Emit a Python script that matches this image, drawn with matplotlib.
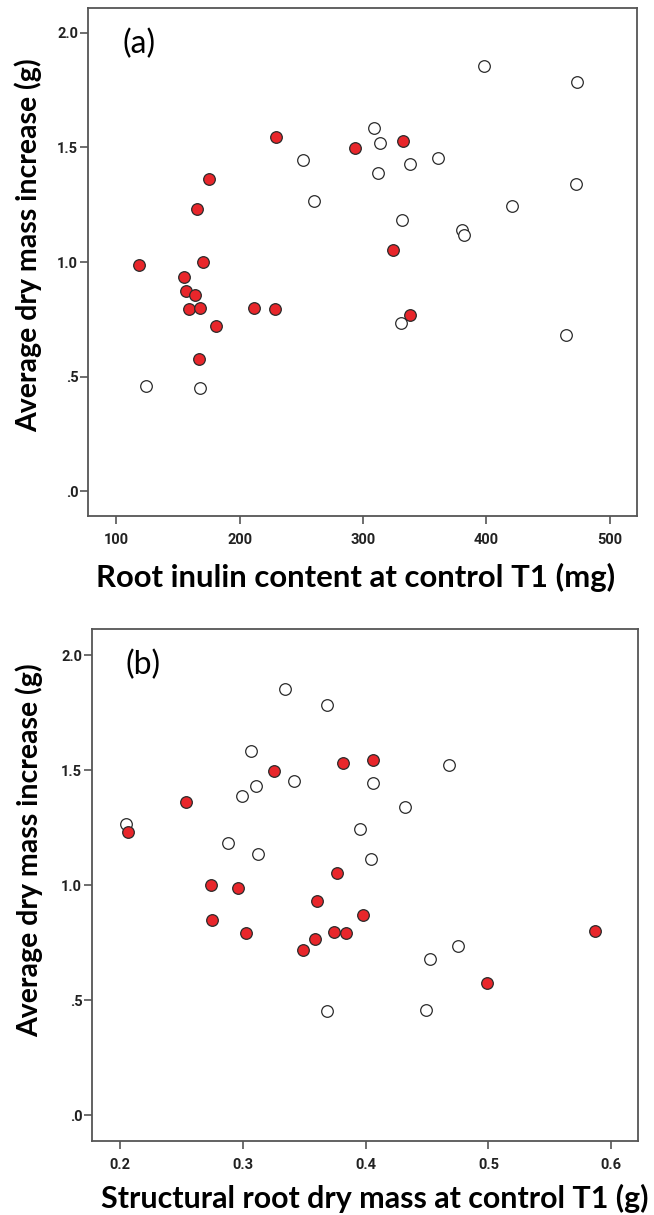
import matplotlib
matplotlib.use("Agg")
import matplotlib.pyplot as plt

# ---------------- data ----------------
# Panel (a): root inulin content (mg) vs average dry mass increase (g)
a_red_x = [118, 154.5, 156.2, 158.6, 164, 168, 165, 170, 167, 175, 181, 211.7, 228.3, 229.7, 293.4, 332.5, 324.3, 338]
a_red_y = [0.989, 0.934, 0.873, 0.795, 0.854, 0.800, 1.233, 1.000, 0.577, 1.363, 0.720, 0.801, 0.793, 1.545, 1.496, 1.529, 1.053, 0.767]
a_open_x = [123.8, 168, 251, 260.3, 308.7, 313.8, 312.1, 338, 331.5, 330.8, 360.4, 380.5, 381.9, 398.2, 420.7, 473.4, 473, 464.3]
a_open_y = [0.459, 0.452, 1.446, 1.268, 1.585, 1.521, 1.387, 1.429, 1.183, 0.734, 1.455, 1.139, 1.116, 1.854, 1.246, 1.784, 1.340, 0.681]

# Panel (b): structural root dry mass (g) vs average dry mass increase (g)
b_red_x = [0.2061, 0.254, 0.2741, 0.296, 0.2751, 0.3025, 0.3254, 0.3486, 0.3588, 0.3605, 0.3745, 0.3838, 0.3766, 0.3814, 0.4056, 0.3978, 0.4985, 0.5867]
b_red_y = [1.231, 1.361, 1.001, 0.987, 0.850, 0.793, 1.497, 0.719, 0.766, 0.934, 0.798, 0.793, 1.052, 1.530, 1.545, 0.872, 0.575, 0.802]
b_open_x = [0.2051, 0.2881, 0.2991, 0.3062, 0.3107, 0.3120, 0.3342, 0.3414, 0.3687, 0.3681, 0.3950, 0.4046, 0.4060, 0.4323, 0.4490, 0.4521, 0.4675, 0.4750]
b_open_y = [1.269, 1.183, 1.389, 1.585, 1.430, 1.138, 1.856, 1.456, 1.785, 0.4515, 1.246, 1.116, 1.447, 1.341, 0.458, 0.680, 1.523, 0.735]

y_ticks = [0.0, 0.5, 1.0, 1.5, 2.0]
y_tick_labels = [".0", ".5", "1.0", "1.5", "2.0"]
a_x_ticks = [100, 200, 300, 400, 500]
a_x_tick_labels = ["100", "200", "300", "400", "500"]
b_x_ticks = [0.2, 0.3, 0.4, 0.5, 0.6]
b_x_tick_labels = ["0.2", "0.3", "0.4", "0.5", "0.6"]

y_label = "Average dry mass increase (g)"
a_x_label = "Root inulin content at control T1 (mg)"
b_x_label = "Structural root dry mass at control T1 (g)"

# ---------------- figure ----------------
W, H = 654, 1215
DPI = 100
fig = plt.figure(figsize=(W / DPI, H / DPI), dpi=DPI)
fig.patch.set_facecolor("white")

RED = "#E8262B"
EDGE = "#2a2a2a"
SPINE = "#555555"
TICK_FONT = ["Roboto", "DejaVu Sans"]
LABEL_FONT = ["Lato", "DejaVu Sans"]


def px_axes(left, top, right, bottom):
    return fig.add_axes([left / W, 1 - bottom / H, (right - left) / W, (bottom - top) / H])


def style(ax, xlim, ylim, xticks, xticklabels, xlabel, tag,
          xl_size, xl_coords, yl_coords):
    ax.set_xlim(*xlim)
    ax.set_ylim(*ylim)
    ax.set_xticks(xticks)
    ax.set_xticklabels(xticklabels)
    ax.set_yticks(y_ticks)
    ax.set_yticklabels(y_tick_labels)
    for s in ax.spines.values():
        s.set_color(SPINE)
        s.set_linewidth(1.3)
    ax.tick_params(direction="out", length=6, width=1.2, color=SPINE,
                   top=False, right=False)
    ax.tick_params(axis="x", pad=6)
    ax.tick_params(axis="y", pad=1)
    for lab in ax.get_xticklabels() + ax.get_yticklabels():
        lab.set_family(TICK_FONT)
        lab.set_fontweight("bold")
        lab.set_fontsize(10.5)
        lab.set_color("#222222")
    ax.set_ylabel(y_label, family=LABEL_FONT, fontweight="bold", fontsize=20.5)
    ax.yaxis.label.set_va("center")
    ax.yaxis.set_label_coords(*yl_coords)
    ax.set_xlabel(xlabel, family=LABEL_FONT, fontweight="bold", fontsize=xl_size)
    ax.xaxis.label.set_va("center")
    ax.xaxis.set_label_coords(*xl_coords)
    ax.text(0.062, 0.93, tag, transform=ax.transAxes, family=LABEL_FONT,
            fontsize=23, va="center", ha="left")


ax1 = px_axes(88, 8, 637, 516)
ax1.scatter(a_open_x, a_open_y, s=70, facecolors="white", edgecolors=EDGE, linewidths=0.9, zorder=3)
ax1.scatter(a_red_x, a_red_y, s=70, facecolors=RED, edgecolors=EDGE, linewidths=0.9, zorder=3)
style(ax1, (76.9, 522.1), (-0.109, 2.109), a_x_ticks, a_x_tick_labels, a_x_label, "(a)",
      22.4, (0.488, -(577 - 516) / 508), ((28 - 88) / 549, (516 - 245) / 508))

ax2 = px_axes(92, 629, 638, 1141)
ax2.scatter(b_open_x, b_open_y, s=70, facecolors="white", edgecolors=EDGE, linewidths=0.9, zorder=3)
ax2.scatter(b_red_x, b_red_y, s=70, facecolors=RED, edgecolors=EDGE, linewidths=0.9, zorder=3)
style(ax2, (0.177, 0.6219), (-0.112, 2.115), b_x_ticks, b_x_tick_labels, b_x_label, "(b)",
      21.9, (0.518, -(1198 - 1141) / 512), ((29 - 92) / 546, (1141 - 850) / 512))

fig.savefig("out.png", dpi=DPI, facecolor="white")
